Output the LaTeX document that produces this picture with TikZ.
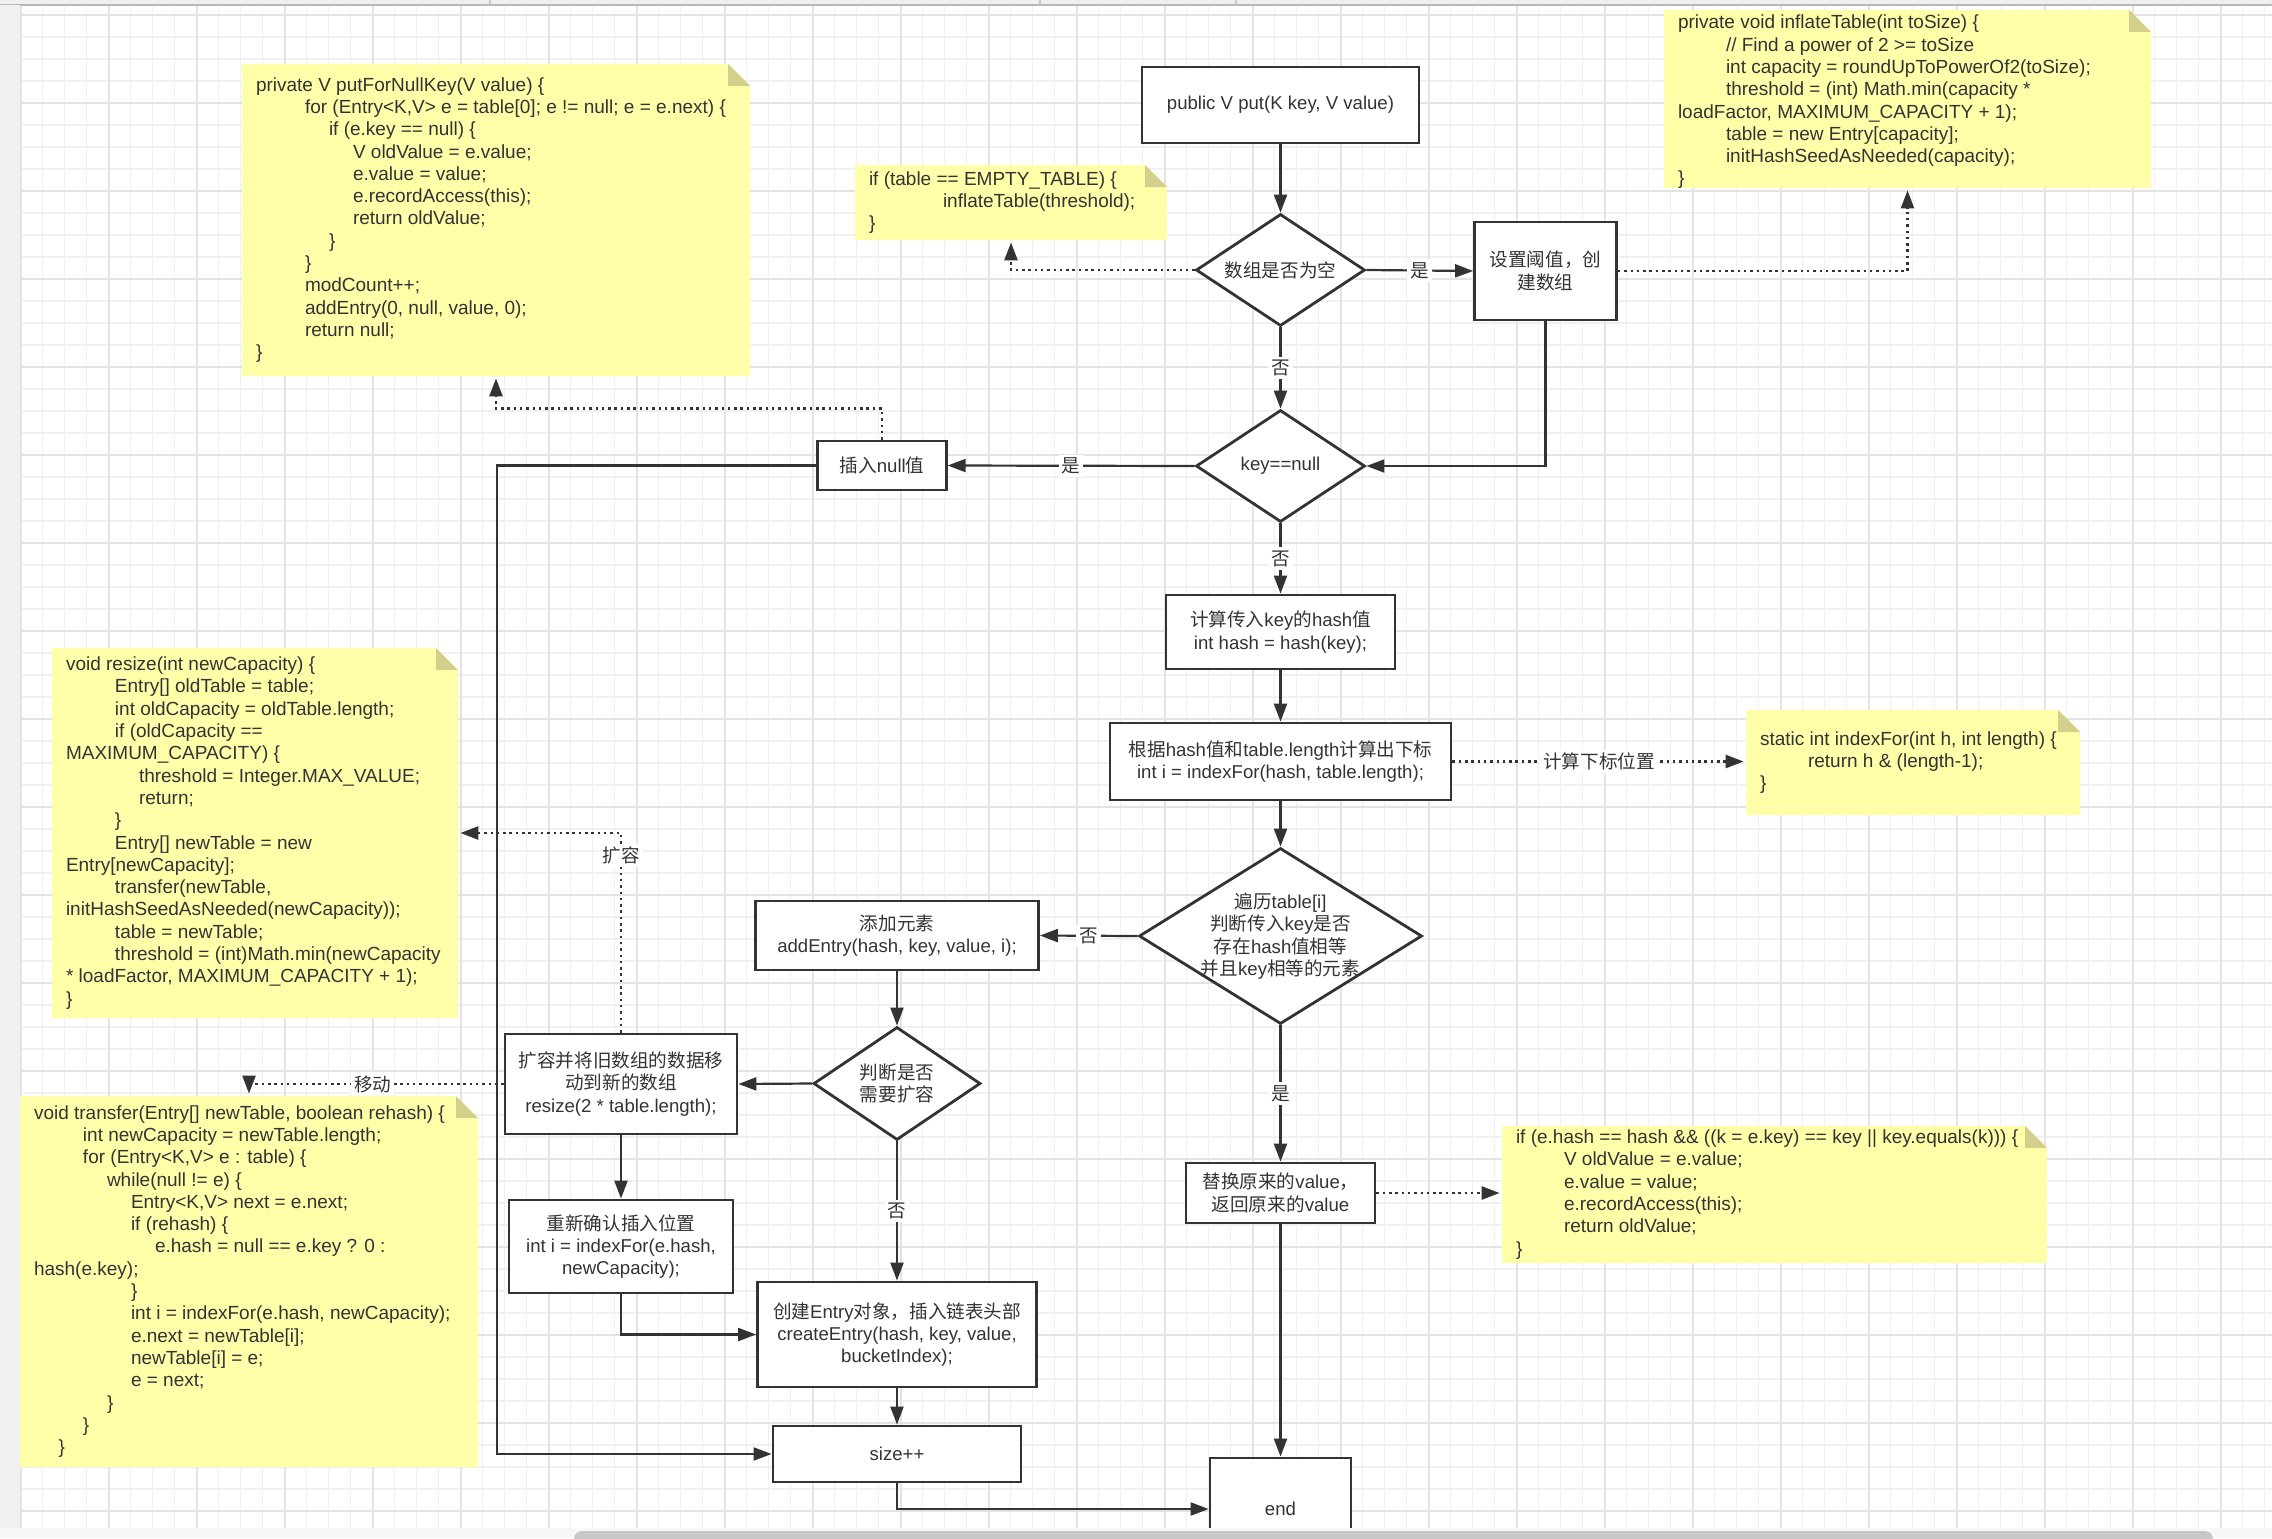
\documentclass[tikz,border=0pt]{standalone}
\usepackage{fontspec}
\setmainfont{Liberation Sans}
\newfontfamily\zhfont{Noto Sans CJK SC}
\usetikzlibrary{arrows.meta,shapes.geometric,fit}
\newcommand\zh[1]{{\zhfont #1}}
\newcommand\nfont{\fontsize{9.3pt}{11.2pt}\selectfont}
\newcommand\cfont{\fontsize{9.5pt}{11.15pt}\selectfont}
\definecolor{lc}{HTML}{333333}
\definecolor{tc}{HTML}{333333}
\definecolor{notey}{HTML}{FFFFAA}
\definecolor{foldy}{HTML}{D4D08C}
\definecolor{gminor}{HTML}{F0F0F0}
\definecolor{gmajor}{HTML}{E3E3E3}
\newcommand\notebg[4]{%
  \fill[notey] (#1,#2) -- ({#3-22},#2) -- (#3,{#2+22}) -- (#3,#4) -- (#1,#4) -- cycle;
  \fill[foldy] ({#3-22},#2) -- ({#3-22},{#2+22}) -- (#3,{#2+22}) -- cycle;}
\begin{document}
\begin{tikzpicture}[x=0.5pt,y=-0.5pt,
  box/.style={draw=lc, line width=1.4pt, fill=white, align=center, inner sep=1pt, text=tc, font=\nfont},
  dia/.style={diamond, draw=lc, line width=1.4pt, fill=white, inner sep=0pt},
  dlab/.style={align=center, text=tc, font=\nfont, inner sep=0pt},
  arr/.style={draw=lc, line width=1.1pt, -{Triangle[length=9pt,width=6.5pt]}},
  dotarr/.style={draw=lc, line width=1.25pt, dash pattern=on 1.25pt off 1.9pt, -{Triangle[length=9pt,width=6.5pt]}, shorten >=1pt},
  elab/.style={fill=white, inner sep=1.5pt, text=tc, font=\nfont},
  notebox/.style={inner sep=0pt},
  notetext/.style={anchor=west, align=left, text=tc, font=\cfont, inner xsep=7pt, inner ysep=0pt},
]
\useasboundingbox (0,0) rectangle (2272,1538);
\fill[white] (0,0) rectangle (2272,1538);
% grid
\foreach \i in {0,...,102} \draw[gminor, line width=0.55pt] ({20.7+22*\i},5) -- ({20.7+22*\i},1528);
\foreach \j in {0,...,68} \draw[gminor, line width=0.55pt] (20,{15+22*\j}) -- (2272,{15+22*\j});
\foreach \i in {0,...,25} \draw[gmajor, line width=0.9pt] ({20.7+88*\i},5) -- ({20.7+88*\i},1528);
\foreach \j in {0,...,17} \draw[gmajor, line width=0.9pt] (20,{15+88*\j}) -- (2272,{15+88*\j});
% window strips
\fill[black!6] (0,0) rectangle (2272,5);
\draw[black!28, line width=0.6pt] (0,5) -- (2272,5);
\foreach \x in {490,1040,1236} \draw[black!22, line width=0.6pt] (\x,0) -- (\x,5);
\fill[black!6] (0,5) rectangle (20,1528);

% ---------- notes ----------
\notebg{242}{64}{750}{376}
\node[notebox, fit={(242,64) (750,376)}, label={[notetext]west:{%
private V putForNullKey(V value) \{\\
\hspace*{24.5pt}for (Entry<K,V> e = table[0]; e != null; e = e.next) \{\\
\hspace*{36.5pt}if (e.key == null) \{\\
\hspace*{48.5pt}V oldValue = e.value;\\
\hspace*{48.5pt}e.value = value;\\
\hspace*{48.5pt}e.recordAccess(this);\\
\hspace*{48.5pt}return oldValue;\\
\hspace*{36.5pt}\}\\
\hspace*{24.5pt}\}\\
\hspace*{24.5pt}modCount++;\\
\hspace*{24.5pt}addEntry(0, null, value, 0);\\
\hspace*{24.5pt}return null;\\
\}}}] (n1) {};

\notebg{855}{165}{1167}{240}
\node[notebox, fit={(855,165) (1167,240)}, label={[notetext]west:{%
if (table == EMPTY\_TABLE) \{\\
\hspace*{37pt}inflateTable(threshold);\\
\}}}] (n2) {};

\notebg{1664}{10}{2151}{188}
\node[notebox, fit={(1664,10) (2151,188)}, label={[notetext,yshift=-1.5pt]west:{%
private void inflateTable(int toSize) \{\\
\hspace*{24pt}// Find a power of 2 >= toSize\\
\hspace*{24pt}int capacity = roundUpToPowerOf2(toSize);\\
\hspace*{24pt}threshold = (int) Math.min(capacity *\\
loadFactor, MAXIMUM\_CAPACITY + 1);\\
\hspace*{24pt}table = new Entry[capacity];\\
\hspace*{24pt}initHashSeedAsNeeded(capacity);\\
\}}}] (n3) {};

\notebg{1746}{710}{2080}{815}
\node[notebox, fit={(1746,710) (2080,815)}, label={[notetext]west:{%
static int indexFor(int h, int length) \{\\
\hspace*{24pt}return h \& (length-1);\\
\}}}] (n4) {};

\notebg{52}{648}{458}{1018}
\node[notebox, fit={(52,648) (458,1018)}, label={[notetext]west:{%
void resize(int newCapacity) \{\\
\hspace*{24.5pt}Entry[] oldTable = table;\\
\hspace*{24.5pt}int oldCapacity = oldTable.length;\\
\hspace*{24.5pt}if (oldCapacity ==\\
MAXIMUM\_CAPACITY) \{\\
\hspace*{36.5pt}threshold = Integer.MAX\_VALUE;\\
\hspace*{36.5pt}return;\\
\hspace*{24.5pt}\}\\
\hspace*{24.5pt}Entry[] newTable = new\\
Entry[newCapacity];\\
\hspace*{24.5pt}transfer(newTable,\\
initHashSeedAsNeeded(newCapacity));\\
\hspace*{24.5pt}table = newTable;\\
\hspace*{24.5pt}threshold = (int)Math.min(newCapacity\\
\relax* loadFactor, MAXIMUM\_CAPACITY + 1);\\
\}}}] (n5) {};

\notebg{20}{1096}{478}{1467}
\node[notebox, fit={(20,1096) (478,1467)}, label={[notetext]west:{%
void transfer(Entry[] newTable, boolean rehash) \{\\
\hspace*{24.5pt}int newCapacity = newTable.length;\\
\hspace*{24.5pt}for (Entry<K,V> e : table) \{\\
\hspace*{36.5pt}while(null != e) \{\\
\hspace*{48.5pt}Entry<K,V> next = e.next;\\
\hspace*{48.5pt}if (rehash) \{\\
\hspace*{60.5pt}e.hash = null == e.key ? 0 :\\
hash(e.key);\\
\hspace*{48.5pt}\}\\
\hspace*{48.5pt}int i = indexFor(e.hash, newCapacity);\\
\hspace*{48.5pt}e.next = newTable[i];\\
\hspace*{48.5pt}newTable[i] = e;\\
\hspace*{48.5pt}e = next;\\
\hspace*{36.5pt}\}\\
\hspace*{24.5pt}\}\\
\hspace*{12.3pt}\}}}] (n6) {};

\notebg{1502}{1126}{2047}{1263}
\node[notebox, fit={(1502,1126) (2047,1263)}, label={[notetext]west:{%
if (e.hash == hash \&\& ((k = e.key) == key || key.equals(k))) \{\\
\hspace*{24pt}V oldValue = e.value;\\
\hspace*{24pt}e.value = value;\\
\hspace*{24pt}e.recordAccess(this);\\
\hspace*{24pt}return oldValue;\\
\}}}] (n7) {};

% ---------- flow nodes ----------
\node[box, minimum width=138.5pt, minimum height=38pt] (put) at (1280.5,105) {public V put(K key, V value)};
\node[dia, minimum width=84.5pt, minimum height=56pt, label={[dlab]center:{\zh{数组是否为空}}}] (d1) at (1280.5,270) {};
\node[box, minimum width=71pt, minimum height=49pt] (setbox) at (1545.5,271) {\zh{设置阈值，创}\\\zh{建数组}};
\node[dia, minimum width=84.5pt, minimum height=56pt, label={[dlab]center:{key==null}}] (d2) at (1280.5,466) {};
\node[box, minimum width=64.25pt, minimum height=24.5pt] (nullbox) at (882,465.5) {\zh{插入}null\zh{值}};
\node[box, minimum width=114.5pt, minimum height=37pt] (hashbox) at (1280.5,632) {\zh{计算传入}key\zh{的}hash\zh{值}\\int hash = hash(key);};
\node[box, minimum width=170.5pt, minimum height=38.5pt] (idxbox) at (1280.5,761.5) {\zh{根据}hash\zh{值和}table.length\zh{计算出下标}\\int i = indexFor(hash, table.length);};
\node[dia, minimum width=141.5pt, minimum height=88pt, label={[dlab]center:{\zh{遍历}table[i]\\\zh{判断传入}key\zh{是否}\\\zh{存在}hash\zh{值相等}\\\zh{并且}key\zh{相等的元素}}}] (d3) at (1280.5,936) {};
\node[box, minimum width=141.5pt, minimum height=34.5pt] (addbox) at (897,935.5) {\zh{添加元素}\\addEntry(hash, key, value, i);};
\node[dia, minimum width=83.5pt, minimum height=56.5pt, label={[dlab]center:{\zh{判断是否}\\\zh{需要扩容}}}] (d4) at (897,1083.5) {};
\node[box, minimum width=116pt, minimum height=50pt] (resizebox) at (621,1084) {\zh{扩容并将旧数组的数据移}\\\zh{动到新的数组}\\resize(2 * table.length);};
\node[box, minimum width=112pt, minimum height=46.5pt] (rebox) at (621,1246.5) {\zh{重新确认插入位置}\\int i = indexFor(e.hash,\\newCapacity);};
\node[box, minimum width=139.5pt, minimum height=52.5pt] (createbox) at (897,1334.5) {\zh{创建}Entry\zh{对象，插入链表头部}\\createEntry(hash, key, value,\\bucketIndex);};
\node[box, minimum width=124pt, minimum height=28pt] (sizebox) at (897,1454) {size++};
\node[box, minimum width=94.5pt, minimum height=30pt] (replbox) at (1280.5,1193) {\zh{替换原来的}value\zh{，}\\\zh{返回原来的}value};
\node[box, minimum width=70.5pt, minimum height=51pt] (endbox) at (1280.5,1509) {end};
\coordinate (leftrail) at (497,1454);

% ---------- connectors ----------
\draw[arr] (put.south) -- (d1.north);
\draw[arr] (d1.east) -- (setbox.west) node[midway, elab] {\zh{是}};
\draw[arr] (d1.south) -- (d2.north) node[midway, elab] {\zh{否}};
\draw[arr] (setbox.south) |- (d2.east);
\draw[arr] (d2.west) -- (nullbox.east) node[midway, elab] {\zh{是}};
\draw[arr] (d2.south) -- (hashbox.north) node[midway, elab] {\zh{否}};
\draw[arr] (hashbox.south) -- (idxbox.north);
\draw[arr] (idxbox.south) -- (d3.north);
\draw[arr] (d3.west) -- (addbox.east) node[midway, elab] {\zh{否}};
\draw[arr] (d3.south) -- (replbox.north) node[midway, elab] {\zh{是}};
\draw[arr] (replbox.south) -- (endbox.north);
\draw[arr] (addbox.south) -- (d4.north);
\draw[arr] (d4.west) -- (resizebox.east);
\draw[arr] (d4.south) -- (createbox.north) node[midway, elab] {\zh{否}};
\draw[arr] (resizebox.south) -- (rebox.north);
\draw[arr] (rebox.south) |- (createbox.west);
\draw[arr] (createbox.south) -- (sizebox.north);
\draw[arr] (sizebox.south) |- (endbox.west);
\draw[arr] (nullbox.west) -| (leftrail) -- (sizebox.west);

\draw[dotarr] (d1.west) -| (n2.south);
\draw[dotarr] (setbox.east) -| (n3.south);
\draw[dotarr] (nullbox.north) -- ++(0,-31) -| (n1.south);
\draw[dotarr] (idxbox.east) -- (idxbox.east -| n4.west) node[midway, elab] {\zh{计算下标位置}};
\draw[dotarr] (replbox.east) -- (replbox.east -| n7.west);
\draw[dotarr] (resizebox.north) |- (n5.east) node[pos=0.443, elab] {\zh{扩容}};
\draw[dotarr] (resizebox.west) -| (n6.north) node[pos=0.257, elab] {\zh{移动}};

% bottom strip and scrollbar
\fill[black!3] (0,1528) rectangle (2272,1538);
\fill[black!22, rounded corners=4pt] (574,1531) rectangle (2213,1546);
\end{tikzpicture}
\end{document}
